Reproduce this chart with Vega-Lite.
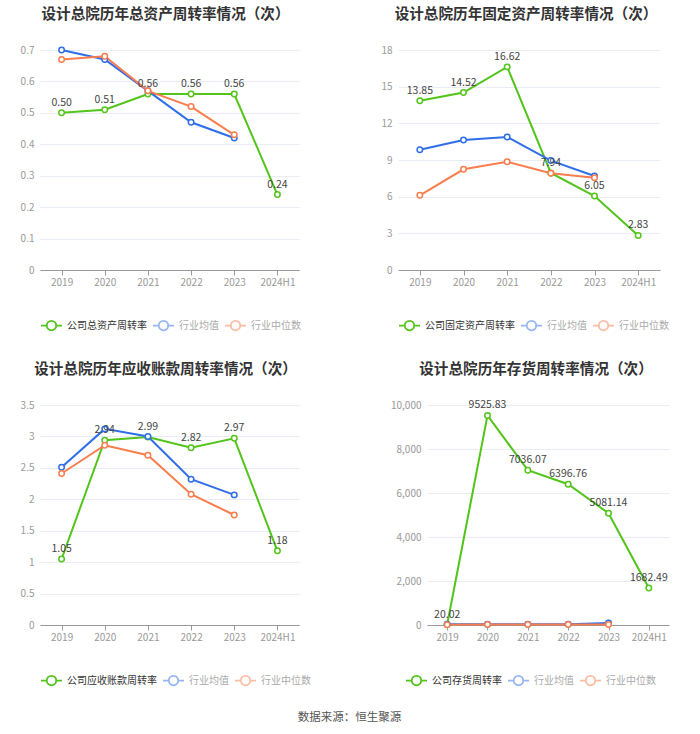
{
  "$schema": "https://vega.github.io/schema/vega-lite/v6.json",
  "padding": {"left": 20, "top": 6, "right": 5, "bottom": 5},
  "background": "white",
  "title": {"text": "数据来源：恒生聚源", "orient": "bottom", "anchor": "middle", "fontSize": 11.5, "fontWeight": "normal", "color": "#555555", "offset": 23, "dx": 5},
  "config": {
    "font": "Noto Sans CJK SC",
    "view": {"stroke": null},
    "title": {"fontSize": 14.6, "fontWeight": "bold", "color": "#333333", "offset": 23},
    "axisX": {"labelColor": "#999999", "labelFontSize": 10, "domainColor": "#999999", "tickColor": "#999999", "tickSize": 5, "labelPadding": 2, "grid": false, "title": null, "labelAngle": 0},
    "axisY": {"labelColor": "#999999", "labelFontSize": 10, "domain": false, "ticks": false, "gridColor": "#e8edf5", "labelPadding": 6, "title": null},
    "legend": {"orient": "bottom", "direction": "horizontal", "labelFontSize": 10, "labelColor": "#333333", "symbolSize": 441, "symbolStrokeWidth": 1.8, "labelOffset": 4, "columnPadding": 2, "offset": 27}
  },
  "datasets": {
    "d1": [
      {"year": "2019", "series": "公司总资产周转率", "value": 0.50},
      {"year": "2020", "series": "公司总资产周转率", "value": 0.51},
      {"year": "2021", "series": "公司总资产周转率", "value": 0.56},
      {"year": "2022", "series": "公司总资产周转率", "value": 0.56},
      {"year": "2023", "series": "公司总资产周转率", "value": 0.56},
      {"year": "2024H1", "series": "公司总资产周转率", "value": 0.24},
      {"year": "2019", "series": "行业均值", "value": 0.70},
      {"year": "2020", "series": "行业均值", "value": 0.67},
      {"year": "2021", "series": "行业均值", "value": 0.57},
      {"year": "2022", "series": "行业均值", "value": 0.47},
      {"year": "2023", "series": "行业均值", "value": 0.42},
      {"year": "2019", "series": "行业中位数", "value": 0.67},
      {"year": "2020", "series": "行业中位数", "value": 0.68},
      {"year": "2021", "series": "行业中位数", "value": 0.57},
      {"year": "2022", "series": "行业中位数", "value": 0.52},
      {"year": "2023", "series": "行业中位数", "value": 0.43}
    ],
    "d2": [
      {"year": "2019", "series": "公司固定资产周转率", "value": 13.85},
      {"year": "2020", "series": "公司固定资产周转率", "value": 14.52},
      {"year": "2021", "series": "公司固定资产周转率", "value": 16.62},
      {"year": "2022", "series": "公司固定资产周转率", "value": 7.94},
      {"year": "2023", "series": "公司固定资产周转率", "value": 6.05},
      {"year": "2024H1", "series": "公司固定资产周转率", "value": 2.83},
      {"year": "2019", "series": "行业均值", "value": 9.84},
      {"year": "2020", "series": "行业均值", "value": 10.64},
      {"year": "2021", "series": "行业均值", "value": 10.88},
      {"year": "2022", "series": "行业均值", "value": 8.95},
      {"year": "2023", "series": "行业均值", "value": 7.69},
      {"year": "2019", "series": "行业中位数", "value": 6.11},
      {"year": "2020", "series": "行业中位数", "value": 8.24},
      {"year": "2021", "series": "行业中位数", "value": 8.86},
      {"year": "2022", "series": "行业中位数", "value": 7.91},
      {"year": "2023", "series": "行业中位数", "value": 7.55}
    ],
    "d3": [
      {"year": "2019", "series": "公司应收账款周转率", "value": 1.05},
      {"year": "2020", "series": "公司应收账款周转率", "value": 2.94},
      {"year": "2021", "series": "公司应收账款周转率", "value": 2.99},
      {"year": "2022", "series": "公司应收账款周转率", "value": 2.82},
      {"year": "2023", "series": "公司应收账款周转率", "value": 2.97},
      {"year": "2024H1", "series": "公司应收账款周转率", "value": 1.18},
      {"year": "2019", "series": "行业均值", "value": 2.51},
      {"year": "2020", "series": "行业均值", "value": 3.12},
      {"year": "2021", "series": "行业均值", "value": 3.00},
      {"year": "2022", "series": "行业均值", "value": 2.32},
      {"year": "2023", "series": "行业均值", "value": 2.07},
      {"year": "2019", "series": "行业中位数", "value": 2.41},
      {"year": "2020", "series": "行业中位数", "value": 2.86},
      {"year": "2021", "series": "行业中位数", "value": 2.70},
      {"year": "2022", "series": "行业中位数", "value": 2.08},
      {"year": "2023", "series": "行业中位数", "value": 1.75}
    ],
    "d4": [
      {"year": "2019", "series": "公司存货周转率", "value": 20.02},
      {"year": "2020", "series": "公司存货周转率", "value": 9525.83},
      {"year": "2021", "series": "公司存货周转率", "value": 7036.07},
      {"year": "2022", "series": "公司存货周转率", "value": 6396.76},
      {"year": "2023", "series": "公司存货周转率", "value": 5081.14},
      {"year": "2024H1", "series": "公司存货周转率", "value": 1682.49},
      {"year": "2019", "series": "行业均值", "value": 30},
      {"year": "2020", "series": "行业均值", "value": 35},
      {"year": "2021", "series": "行业均值", "value": 32},
      {"year": "2022", "series": "行业均值", "value": 30},
      {"year": "2023", "series": "行业均值", "value": 95},
      {"year": "2019", "series": "行业中位数", "value": 15},
      {"year": "2020", "series": "行业中位数", "value": 20},
      {"year": "2021", "series": "行业中位数", "value": 20},
      {"year": "2022", "series": "行业中位数", "value": 18},
      {"year": "2023", "series": "行业中位数", "value": 22}
    ]
  },
  "resolve": {"scale": {"color": "independent"}, "legend": {"color": "independent"}},
  "spacing": 28,
  "vconcat": [
    {
      "resolve": {"scale": {"color": "independent"}, "legend": {"color": "independent"}},
      "spacing": 79,
      "hconcat": [
        {
          "width": 259, "height": 220,
          "title": {"text": "设计总院历年总资产周转率情况（次）", "dx": -4},
          "data": {"name": "d1"},
          "encoding": {
            "x": {"field": "year", "type": "ordinal", "sort": null, "scale": {"type": "point", "padding": 0.5}},
            "y": {"field": "value", "type": "quantitative", "scale": {"domain": [0, 0.7], "nice": false}, "axis": {"values": [0, 0.1, 0.2, 0.3, 0.4, 0.5, 0.6, 0.7], "format": "~g"}}
          },
          "layer": [
            {
              "mark": {"type": "line", "strokeWidth": 2, "point": {"filled": false, "fill": "white", "size": 30, "strokeWidth": 1.5}},
              "encoding": {
                "color": {"field": "series", "type": "nominal", "sort": null,
                  "scale": {"domain": ["公司总资产周转率", "行业均值", "行业中位数"], "range": ["#52c41a", "#2f6ee8", "#fa7d4e"]},
                  "legend": {"title": null, "symbolType": "M-1,0L-0.45,0M0.45,0L1,0M0.45,0A0.45,0.45,0,1,1,-0.45,0A0.45,0.45,0,1,1,0.45,0",
                    "encode": {"symbols": {"update": {"opacity": {"signal": "datum.value === '公司总资产周转率' ? 1 : 0.5"}}}, "labels": {"update": {"fill": {"signal": "datum.value === '公司总资产周转率' ? '#333333' : '#aaaaaa'"}}}}}
                }
              }
            },
            {
              "transform": [{"filter": "datum.series === '公司总资产周转率'"}],
              "mark": {"type": "text", "baseline": "bottom", "dy": -5, "fontSize": 10.5, "color": "#444444"},
              "encoding": {"text": {"field": "value", "type": "quantitative", "format": ".2f"}}
            }
          ]
        },
        {
          "width": 262, "height": 220,
          "title": {"text": "设计总院历年固定资产周转率情况（次）", "dx": -3},
          "data": {"name": "d2"},
          "encoding": {
            "x": {"field": "year", "type": "ordinal", "sort": null, "scale": {"type": "point", "padding": 0.5}},
            "y": {"field": "value", "type": "quantitative", "scale": {"domain": [0, 18], "nice": false}, "axis": {"values": [0, 3, 6, 9, 12, 15, 18], "format": "~g"}}
          },
          "layer": [
            {
              "mark": {"type": "line", "strokeWidth": 2, "point": {"filled": false, "fill": "white", "size": 30, "strokeWidth": 1.5}},
              "encoding": {
                "color": {"field": "series", "type": "nominal", "sort": null,
                  "scale": {"domain": ["公司固定资产周转率", "行业均值", "行业中位数"], "range": ["#52c41a", "#2f6ee8", "#fa7d4e"]},
                  "legend": {"title": null, "symbolType": "M-1,0L-0.45,0M0.45,0L1,0M0.45,0A0.45,0.45,0,1,1,-0.45,0A0.45,0.45,0,1,1,0.45,0",
                    "encode": {"symbols": {"update": {"opacity": {"signal": "datum.value === '公司固定资产周转率' ? 1 : 0.5"}}}, "labels": {"update": {"fill": {"signal": "datum.value === '公司固定资产周转率' ? '#333333' : '#aaaaaa'"}}}}}
                }
              }
            },
            {
              "transform": [{"filter": "datum.series === '公司固定资产周转率'"}],
              "mark": {"type": "text", "baseline": "bottom", "dy": -5, "fontSize": 10.5, "color": "#444444"},
              "encoding": {"text": {"field": "value", "type": "quantitative", "format": ".2f"}}
            }
          ]
        }
      ]
    },
    {
      "resolve": {"scale": {"color": "independent"}, "legend": {"color": "independent"}},
      "spacing": 79,
      "hconcat": [
        {
          "width": 259, "height": 220,
          "title": {"text": "设计总院历年应收账款周转率情况（次）", "dx": -4},
          "data": {"name": "d3"},
          "encoding": {
            "x": {"field": "year", "type": "ordinal", "sort": null, "scale": {"type": "point", "padding": 0.5}},
            "y": {"field": "value", "type": "quantitative", "scale": {"domain": [0, 3.5], "nice": false}, "axis": {"values": [0, 0.5, 1, 1.5, 2, 2.5, 3, 3.5], "format": "~g"}}
          },
          "layer": [
            {
              "mark": {"type": "line", "strokeWidth": 2, "point": {"filled": false, "fill": "white", "size": 30, "strokeWidth": 1.5}},
              "encoding": {
                "color": {"field": "series", "type": "nominal", "sort": null,
                  "scale": {"domain": ["公司应收账款周转率", "行业均值", "行业中位数"], "range": ["#52c41a", "#2f6ee8", "#fa7d4e"]},
                  "legend": {"title": null, "symbolType": "M-1,0L-0.45,0M0.45,0L1,0M0.45,0A0.45,0.45,0,1,1,-0.45,0A0.45,0.45,0,1,1,0.45,0",
                    "encode": {"symbols": {"update": {"opacity": {"signal": "datum.value === '公司应收账款周转率' ? 1 : 0.5"}}}, "labels": {"update": {"fill": {"signal": "datum.value === '公司应收账款周转率' ? '#333333' : '#aaaaaa'"}}}}}
                }
              }
            },
            {
              "transform": [{"filter": "datum.series === '公司应收账款周转率'"}],
              "mark": {"type": "text", "baseline": "bottom", "dy": -5, "fontSize": 10.5, "color": "#444444"},
              "encoding": {"text": {"field": "value", "type": "quantitative", "format": ".2f"}}
            }
          ]
        },
        {
          "width": 242, "height": 220,
          "title": {"text": "设计总院历年存货周转率情况（次）", "dx": -12},
          "data": {"name": "d4"},
          "encoding": {
            "x": {"field": "year", "type": "ordinal", "sort": null, "scale": {"type": "point", "padding": 0.5}},
            "y": {"field": "value", "type": "quantitative", "scale": {"domain": [0, 10000], "nice": false}, "axis": {"values": [0, 2000, 4000, 6000, 8000, 10000], "format": ",.0f"}}
          },
          "layer": [
            {
              "mark": {"type": "line", "strokeWidth": 2, "point": {"filled": false, "fill": "white", "size": 30, "strokeWidth": 1.5}},
              "encoding": {
                "color": {"field": "series", "type": "nominal", "sort": null,
                  "scale": {"domain": ["公司存货周转率", "行业均值", "行业中位数"], "range": ["#52c41a", "#2f6ee8", "#fa7d4e"]},
                  "legend": {"title": null, "orient": "none", "legendX": -22, "legendY": 264, "symbolType": "M-1,0L-0.45,0M0.45,0L1,0M0.45,0A0.45,0.45,0,1,1,-0.45,0A0.45,0.45,0,1,1,0.45,0",
                    "encode": {"symbols": {"update": {"opacity": {"signal": "datum.value === '公司存货周转率' ? 1 : 0.5"}}}, "labels": {"update": {"fill": {"signal": "datum.value === '公司存货周转率' ? '#333333' : '#aaaaaa'"}}}}}
                }
              }
            },
            {
              "transform": [{"filter": "datum.series === '公司存货周转率'"}],
              "mark": {"type": "text", "baseline": "bottom", "dy": -5, "fontSize": 10.5, "color": "#444444"},
              "encoding": {"text": {"field": "value", "type": "quantitative", "format": ".2f"}}
            }
          ]
        }
      ]
    }
  ]
}
